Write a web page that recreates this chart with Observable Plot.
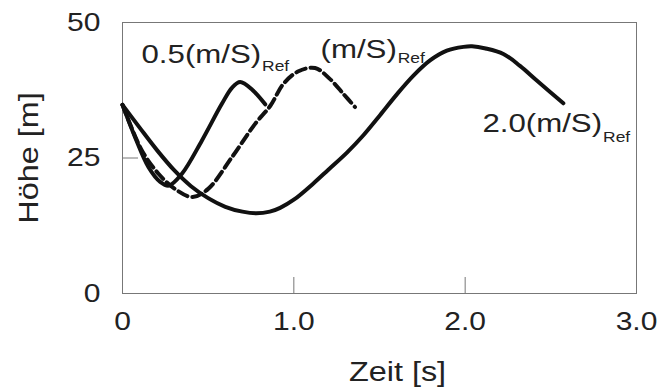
<!DOCTYPE html>
<html>
<head>
<meta charset="utf-8">
<script src="https://cdn.jsdelivr.net/npm/d3@7"></script>
<script src="https://cdn.jsdelivr.net/npm/@observablehq/plot@0.6"></script>
<style>
  html, body { margin: 0; padding: 0; background: #fff; }
  svg { display: block; }
</style>
</head>
<body>
<div id="chart"></div>
<script>
// Series 0.5 (m/S)Ref — solid
const t05 = [0, 0.074, 0.152, 0.22, 0.27, 0.347, 0.463, 0.58, 0.64, 0.687, 0.76, 0.833];
const h05 = [34.8, 28.8, 23.3, 20.6, 19.9, 22.1, 28.2, 35.0, 38.0, 39.0, 37.5, 34.9];

// Series 1.0 (m/S)Ref — dashed
const t10 = [0, 0.113, 0.21, 0.31, 0.41, 0.50, 0.64, 0.774, 0.862, 0.94, 1.027, 1.124, 1.21, 1.29, 1.357];
const h10 = [34.8, 26.4, 22.1, 19.2, 17.8, 19.3, 25.2, 31.3, 34.6, 38.7, 41.0, 41.6, 39.6, 36.8, 34.4];

// Series 2.0 (m/S)Ref — solid
const t20 = [0, 0.1, 0.2, 0.3, 0.4, 0.5, 0.6, 0.7, 0.78, 0.86, 0.92, 1.0, 1.114, 1.2, 1.31, 1.406, 1.503, 1.6, 1.698, 1.795, 1.893, 1.99, 2.04, 2.12, 2.223, 2.32, 2.418, 2.573];
const h20 = [34.8, 30.6, 26.5, 22.8, 19.8, 17.6, 16.0, 15.1, 14.8, 15.1, 15.8, 17.3, 20.3, 22.8, 26.0, 29.2, 32.9, 36.7, 40.2, 43.0, 44.8, 45.5, 45.6, 45.2, 44.2, 42.0, 39.3, 35.1];

// Tick values / labels
const xTicks = [0, 1, 2, 3];
const xTickLabels = ["0", "1.0", "2.0", "3.0"];
const yTicks = [0, 25, 50];

// Curve labels (text, subscript, anchor in data units)
const labelText = ["0.5(m/S)", "(m/S)", "2.0(m/S)"];
const labelSub = ["Ref", "Ref", "Ref"];
const labelX = [0.809, 1.601, 2.799];
const labelY = [44.1, 45.0, 31.3];
const subY = [42.0, 43.3, 28.8];

const xLabel = "Zeit [s]";
const yLabel = "Höhe [m]";

const toRows = (ts, hs, s) => ts.map((t, i) => ({t, h: hs[i], s}));
const solid = [...toRows(t05, h05, "0.5"), ...toRows(t20, h20, "2.0")];
const dashed = toRows(t10, h10, "1.0");
const labels = labelText.map((txt, i) => ({txt, sub: labelSub[i], x: labelX[i], y: labelY[i], ys: subY[i]}));

const font = "Liberation Sans, Arial, Helvetica, sans-serif";
const ink = "#222";

const chart = Plot.plot({
  width: 663,
  height: 389,
  marginLeft: 122,
  marginRight: 27,
  marginTop: 22,
  marginBottom: 96,
  style: {fontFamily: font, color: ink, background: "#fff"},
  x: {domain: [0, 3]},
  y: {domain: [0, 50]},
  marks: [
    Plot.frame({stroke: "#777", strokeWidth: 1}),
    Plot.tickY([25], {y: d => d, stroke: "#777", insetRight: 498}),
    Plot.tickX([1, 2], {x: d => d, stroke: "#777", insetTop: 255}),
    Plot.axisY({ticks: yTicks, tickSize: 0, tickPadding: 22, fontSize: 25, label: null, fill: ink}),
    Plot.axisX({ticks: xTicks, tickFormat: (d) => xTickLabels[xTicks.indexOf(d)], tickSize: 0, tickPadding: 19, fontSize: 25, label: null, fill: ink}),
    Plot.line(solid, {x: "t", y: "h", z: "s", stroke: "#111", strokeWidth: 4, curve: "catmull-rom"}),
    Plot.line(dashed, {x: "t", y: "h", stroke: "#111", strokeWidth: 4, strokeDasharray: "10,5", curve: "catmull-rom"}),
    Plot.text(labels, {x: "x", y: "y", text: "txt", textAnchor: "end", fontSize: 26, fill: ink}),
    Plot.text(labels, {x: "x", y: "ys", text: "sub", textAnchor: "start", fontSize: 14.5, fill: ink, dx: 1}),
    Plot.text([xLabel], {frameAnchor: "bottom", lineAnchor: "middle", dx: 18, dy: 79, fontSize: 27, fill: ink}),
    Plot.text([yLabel], {frameAnchor: "left", textAnchor: "middle", lineAnchor: "middle", rotate: -90, dx: -93, fontSize: 27, fill: ink})
  ]
});
document.getElementById("chart").appendChild(chart);

// The reference typeface is wider than Liberation Sans: stretch glyphs horizontally.
chart.querySelectorAll("text").forEach(t => {
  const L = t.getComputedTextLength();
  if (L > 0) {
    t.setAttribute("textLength", (L * 1.2).toFixed(1));
    t.setAttribute("lengthAdjust", "spacingAndGlyphs");
  }
});
</script>
</body>
</html>
